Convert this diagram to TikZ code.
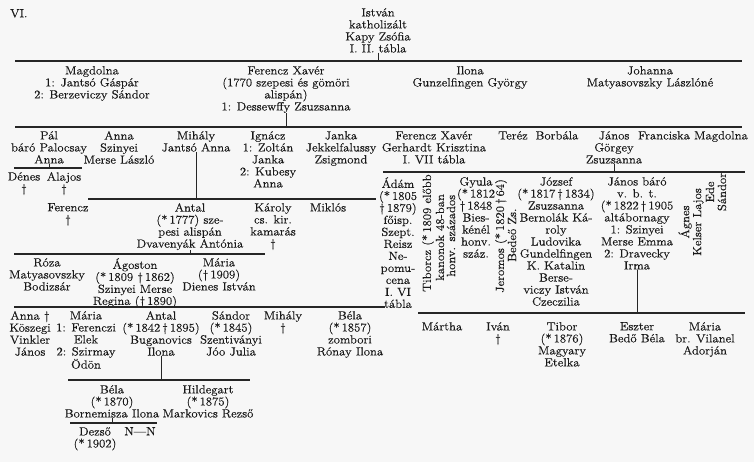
\documentclass[tikz,border=0pt]{standalone}
\usepackage{fontspec}
\setmainfont{Latin Modern Roman}[FakeStretch=1.08, FakeBold=0.35]
\usetikzlibrary{positioning}

\tikzset{
  person/.style={inner sep=0pt, align=center, anchor=north, text=black!90,
                 font=\fontsize{11.8}{12}\selectfont},
  sideways/.style={person, rotate=90, anchor=center},
  famline/.style={draw=black!85, line width=1.6pt},
  tip/.style={draw=black!85, line width=1pt}
}

\begin{document}
\begin{tikzpicture}[x=1pt,y=-1pt]
  \fill[black!3] (0,0) rectangle (754,462);
  \useasboundingbox (0,0) rectangle (754,462);

  % head of the table
  \node[person, anchor=north west] (tabno) at (10,9) {VI.};
  \node[person] (istvan) at (378,8) {István\\katholizált\\Kapy Zsófia\\I. II. tábla};

  % first generation
  \coordinate (g1w) at (15,61);
  \coordinate (g1e) at (742,61);
  \draw[famline] (g1w) -- (g1e);
  \draw[tip] (istvan.south) -- (istvan.south |- g1w);

  \node[person] (magdolna) at (92,66) {Magdolna\\1: Jantsó Gáspár\\2: Berzeviczy Sándor};
  \node[person] (fxaver) at (286,66) {Ferencz Xavér\\(1770 szepesi és gömöri\\alispán)\\1: Dessewffy Zsuzsanna};
  \node[person] (ilona) at (470,66) {Ilona\\Gunzelfingen György};
  \node[person] (johanna) at (650,66) {Johanna\\Matyasovszky Lászlóné};

  % second generation
  \coordinate (g2w) at (15,127);
  \coordinate (g2e) at (742,127);
  \draw[famline] (g2w) -- (g2e);
  \draw[tip] (fxaver.south) -- (fxaver.south |- g2w);

  \node[person] (pal) at (49,131) {Pál\\báró Palocsay\\Anna};
  \node[person] (anna) at (119,131) {Anna\\Szinyei\\Merse László};
  \node[person] (mihaly) at (196,131) {Mihály\\Jantsó Anna};
  \node[person] (ignacz) at (268,131) {Ignácz\\1: Zoltán\\Janka\\2: Kubesy\\Anna};
  \node[person] (janka) at (341,131) {Janka\\Jekkelfalussy\\Zsigmond};
  \node[person] (gerhardt) at (434,131) {Ferencz Xavér\\Gerhardt Krisztina\\I. VII tábla};
  \node[person] (terez) at (513,131) {Teréz};
  \node[person] (borbala) at (557,131) {Borbála};
  \node[person] (janos) at (614,131) {János\\Görgey\\Zsuzsanna};
  \node[person] (franciska) at (664,131) {Franciska};
  \node[person] (magdolna2) at (721,131) {Magdolna};

  % Pál's sons
  \coordinate (pw) at (14,168);
  \coordinate (pe) at (82,168);
  \draw[famline] (pw) -- (pe);
  \draw[tip] (pal.south) -- (pal.south |- pw);
  \node[person] (denes) at (24,172) {Dénes\\\dag};
  \node[person] (alajos) at (64,172) {Alajos\\\dag};

  % Mihály's children
  \coordinate (mw) at (88,199);
  \coordinate (me) at (376,199);
  \draw[famline] (mw) -- (me);
  \draw[tip] (mihaly.south) -- (mihaly.south |- mw);
  \node[person] (ferencz) at (68,203) {Ferencz\\\dag};
  \node[person] (antal) at (190,203) {Antal\\(*\,1777) sze-\\pesi alispán\\Dvavenyák Antónia};
  \node[person] (karoly) at (273,203) {Károly\\cs. kir.\\kamarás\\\dag};
  \node[person] (miklos) at (328,203) {Miklós};

  % Antal's children
  \coordinate (aw) at (14,254);
  \coordinate (ae) at (265,254);
  \draw[famline] (aw) -- (ae);
  \draw[tip] (antal.south) -- (antal.south |- aw);
  \node[person] (roza) at (47,258) {Róza\\Matyasovszky\\Bodizsár};
  \node[person] (agoston) at (135,258) {Ágoston\\(*\,1809 \dag\,1862)\\Szinyei Merse\\Regina (\dag\,1890)};
  \node[person] (maria) at (219,258) {Mária\\(\dag\,1909)\\Dienes István};

  % Ágoston's children
  \coordinate (agw) at (14,307);
  \coordinate (age) at (385,307);
  \draw[famline] (agw) -- (age);
  \draw[tip] (agoston.south) -- (agoston.south |- agw);
  \node[person] (annak) at (30,311) {Anna \dag\\Köszegi\\Vinkler\\János};
  \node[person] (mariaf) at (86,311) {Mária\\1: Ferenczi\\Elek\\2: Szirmay\\Ödön};
  \node[person] (antalb) at (161,311) {Antal\\(*\,1842\,\dag\,1895)\\Buganovics\\Ilona};
  \node[person] (sandor) at (231,311) {Sándor\\(*\,1845)\\Szentiványi\\Jóo Julia};
  \node[person] (mihaly2) at (283,311) {Mihály\\\dag};
  \node[person] (bela) at (350,311) {Béla\\(*\,1857)\\zombori\\Rónay Ilona};

  % Antal's children
  \coordinate (bw) at (68,380);
  \coordinate (be) at (250,380);
  \draw[famline] (bw) -- (be);
  \draw[tip] (antalb.south) -- (antalb.south |- bw);
  \node[person] (bela2) at (112,385) {Béla\\(*\,1870)\\Bornemisza Ilona};
  \node[person] (hildegart) at (208,385) {Hildegart\\(*\,1875)\\Markovics Rezső};

  % Béla's children
  \coordinate (dw) at (70,423);
  \coordinate (de) at (157,423);
  \draw[famline] (dw) -- (de);
  \draw[tip] (bela2.south) -- (bela2.south |- dw);
  \node[person] (dezso) at (95,427) {Dezső\\(*\,1902)};
  \node[person] (nn) at (140,427) {N---N};

  % János's children
  \coordinate (jw) at (383,172);
  \coordinate (je) at (745,172);
  \draw[famline] (jw) -- (je);
  \draw[tip] (janos.south) -- (janos.south |- jw);
  \node[person] (adam) at (398,177) {Ádám\\(*\,1805\\\dag\,1879)\\főisp.\\Szept.\\Reisz\\Ne-\\pomu-\\cena\\I. VI\\tábla};
  \node[sideways, anchor=west] (tiborcz) at (428,292) {Tiborcz (*\,1809 előbb};
  \node[sideways, anchor=west] (kanonok) at (440,281) {kanonok 48-ban};
  \node[sideways, anchor=west] (honv) at (451,277) {honv. százados};
  \node[person] (gyula) at (476,177) {Gyula\\(*\,1812\\\dag\,1848\\Bies-\\kénél\\honv.\\száz.};
  \node[sideways, anchor=west] (jeromos) at (501,293) {Jeromos (*\,1820\,\dag\,64)};
  \node[sideways, anchor=west] (bedeo) at (512,262) {Bedeő Zs.};
  \node[person] (jozsef) at (556,177) {József\\(*\,1817\,\dag\,1834)\\Zsuzsanna\\Bernolák Ká-\\roly\\Ludovika\\Gundelfingen\\K. Katalin\\Berse-\\viczy István\\Czeczilia};
  \node[person] (janosb) at (637,177) {János báró\\v. b. t.\\(*\,1822\,\dag\,1905\\altábornagy\\1: Szinyei\\Merse Emma\\2: Dravecky\\Irma};
  \node[sideways] (agnes) at (691,222) {Ágnes\\Kelser Lajos};
  \node[sideways] (ede) at (716,192) {Ede\\Sándor};

  % János báró's children
  \coordinate (kw) at (418,313);
  \coordinate (ke) at (745,313);
  \draw[famline] (kw) -- (ke);
  \draw[tip] (janosb.south) -- (janosb.south |- kw);
  \node[person] (martha) at (442,322) {Mártha};
  \node[person] (ivan) at (498,322) {Iván\\\dag};
  \node[person] (tibor) at (562,322) {Tibor\\(*\,1876)\\Magyary\\Etelka};
  \node[person] (eszter) at (637,322) {Eszter\\Bedő Béla};
  \node[person] (maria3) at (705,322) {Mária\\br. Vilanel\\Adorján};
\end{tikzpicture}
\end{document}
